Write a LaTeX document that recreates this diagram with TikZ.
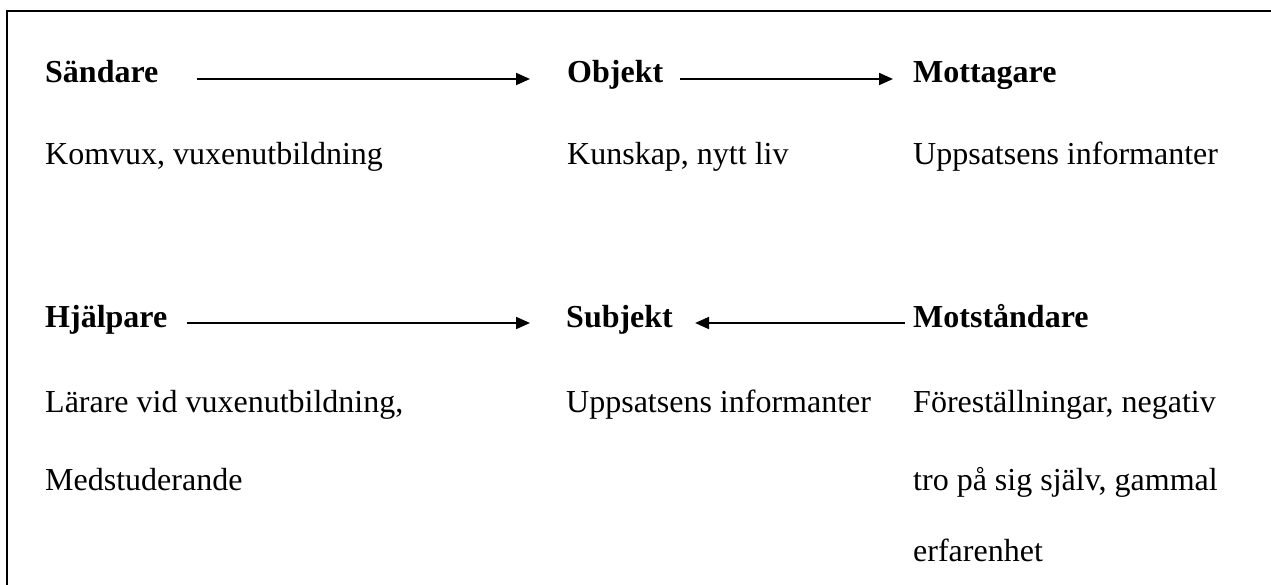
\documentclass[tikz,border=0pt]{standalone}
\usepackage{fontspec}
\setmainfont{Liberation Serif}
\usetikzlibrary{arrows.meta}

\begin{document}
\begin{tikzpicture}[x=1pt, y=-1pt,
        role/.style={anchor=base west, inner sep=0pt, font=\fontsize{32}{38}\selectfont\bfseries},
        detail/.style={anchor=base west, inner sep=0pt, font=\fontsize{32}{38}\selectfont},
        flow/.style={line width=2pt, -{Triangle[length=14pt,width=12pt]}}]
        % Fix the size of the page
        \useasboundingbox (0,0) rectangle (1271,585);

        % Frame, open at the right and at the bottom
        \draw[line width=2pt] (1271,11) -- (7,11) -- (7,585);

        % The six roles of the model
        \node[role] (sender)   at (45,83)  {Sändare};
        \node[role] (object)   at (567,83) {Objekt};
        \node[role] (receiver) at (913,83) {Mottagare};
        \node[role] (helper)   at (45,327)  {Hjälpare};
        \node[role] (subject)  at (566,327) {Subjekt};
        \node[role] (opponent) at (913,327) {Motståndare};

        % What each role stands for
        \foreach \name/\x/\y/\text in {
            senderdesc/45/165/{Komvux, vuxenutbildning},
            objectdesc/567/165/{Kunskap, nytt liv},
            receiverdesc/913/165/{Uppsatsens informanter},
            helperdesc/45/412/{Lärare vid vuxenutbildning,},
            helperdescb/45/490/{Medstuderande},
            subjectdesc/566/412/{Uppsatsens informanter},
            opponentdesc/913/412/{Föreställningar, negativ},
            opponentdescb/913/490/{tro på sig själv, gammal},
            opponentdescc/913/561/{erfarenhet}}{
            \node[detail] (\name) at (\x,\y) {\text};
        }

        % Arrows between the roles
        \draw[flow, shorten <=38pt, shorten >=37pt]
            ([yshift=4pt]sender.base east) -- ([yshift=4pt]object.base west);
        \draw[flow, shorten <=17pt, shorten >=20pt]
            ([yshift=4pt]object.base east) -- ([yshift=4pt]receiver.base west);
        \draw[flow, shorten <=20pt, shorten >=36pt]
            ([yshift=4pt]helper.base east) -- ([yshift=4pt]subject.base west);
        \draw[flow, shorten <=8pt, shorten >=22pt]
            ([yshift=4pt]opponent.base west) -- ([yshift=4pt]subject.base east);
    \end{tikzpicture}
\end{document}
